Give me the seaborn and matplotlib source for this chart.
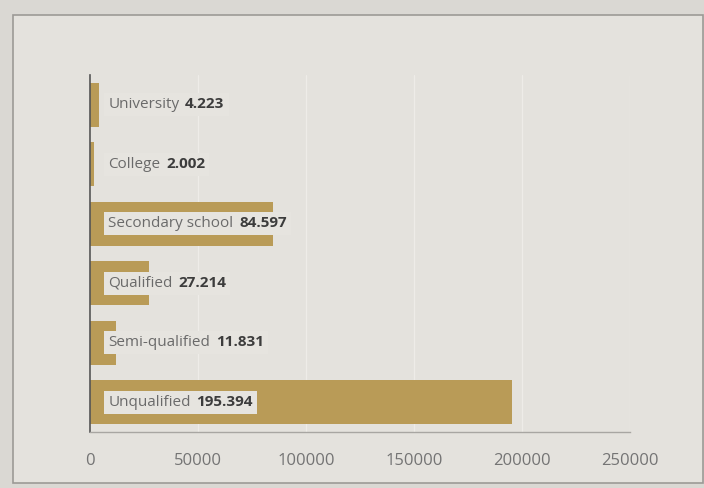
import pandas as pd
import matplotlib.pyplot as plt
import seaborn as sns
from matplotlib.patches import Rectangle
from matplotlib.offsetbox import TextArea, HPacker, AnnotationBbox

# datos
categorias = ["University", "College", "Secondary school", "Qualified", "Semi-qualified", "Unqualified"]
valores = [4223, 2002, 84597, 27214, 11831, 195394]
ticks = [0, 50000, 100000, 150000, 200000, 250000]

df = pd.DataFrame({"Categoria": categorias, "Valor": valores})

sns.set_style("white")
plt.rcParams['font.family'] = ['Open Sans', 'DejaVu Sans']

fig = plt.figure(figsize=(7.04, 4.88), dpi=100, facecolor='#DAD8D3')
# marco interior
fig.patches.append(Rectangle((13 / 704, 1 - 483 / 488), 690 / 704, 468 / 488,
                             transform=fig.transFigure, facecolor='#E4E2DD',
                             edgecolor='#9C9A96', linewidth=1.2, zorder=-1))

ax = fig.add_axes([90 / 704, 1 - 432 / 488, 540 / 704, 357 / 488])
ax.set_zorder(2)
ax.set_facecolor('none')

sns.barplot(data=df, y="Categoria", x="Valor", orient='h', color='#B99B57',
            saturation=1, width=0.74, linewidth=0, edgecolor='none', ax=ax, zorder=2)

ax.set_xlim(0, 250000)
ax.set_ylim(5.5, -0.5)
ax.set_xticks(ticks)
ax.set_xticklabels([str(t) for t in ticks], fontsize=12, color='#747474')
ax.tick_params(axis='x', length=0, pad=15)
ax.set_yticks([])
ax.set_xlabel('')
ax.set_ylabel('')
ax.grid(axis='x', color='#EEECE8', linewidth=0.9, zorder=0)
ax.set_axisbelow(True)

for s in ['top', 'right']:
    ax.spines[s].set_visible(False)
ax.spines['left'].set_color('#555555')
ax.spines['left'].set_linewidth(1.2)
ax.spines['bottom'].set_color('#A8A6A2')
ax.spines['bottom'].set_linewidth(1.0)

# etiquetas dentro de las barras (nombre + valor en negrita, una sola caja)
for i, (cat, val) in enumerate(zip(categorias, valores)):
    nombre = TextArea(cat, textprops=dict(fontsize=11, color='#6A6A6A'))
    numero = TextArea(f"{val:,}".replace(",", "."),
                      textprops=dict(fontsize=11, fontweight='bold', color='#3C3C3C'))
    caja = HPacker(children=[nombre, numero], align='baseline', pad=0, sep=4)
    ab = AnnotationBbox(caja, (8500, i), box_alignment=(0, 0.5), frameon=True,
                        pad=0.25, zorder=5,
                        bboxprops=dict(boxstyle='square', facecolor='#E6E4DF', edgecolor='none'))
    ax.add_artist(ab)

plt.savefig('out.png', dpi=100, facecolor=fig.get_facecolor())
